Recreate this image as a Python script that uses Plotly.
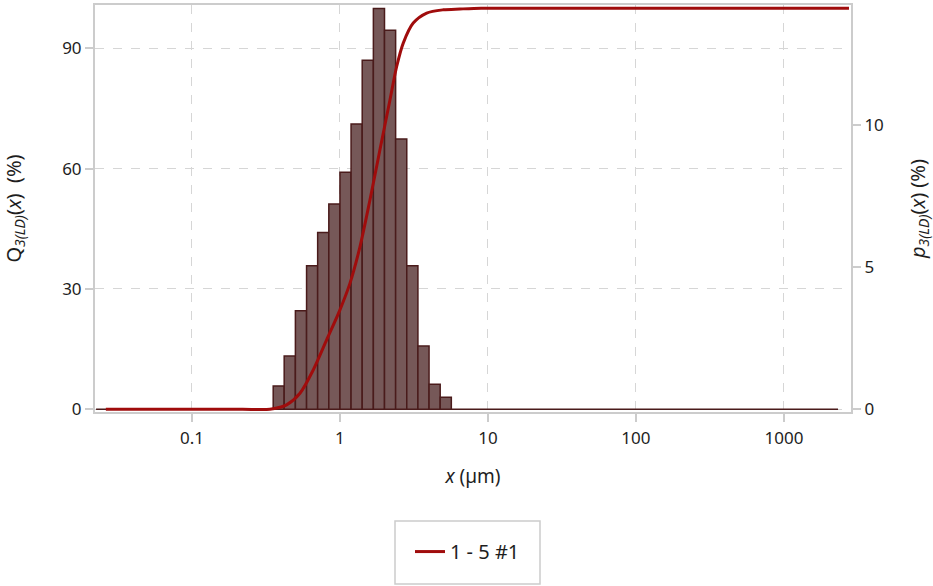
import plotly.graph_objects as go

# ---- data ----
bin_edges = [0.354, 0.420, 0.500, 0.595, 0.707, 0.841, 1.000, 1.189, 1.414,
             1.682, 2.000, 2.378, 2.828, 3.364, 4.000, 4.757, 5.657]
p3_values = [0.82, 1.87, 3.46, 5.04, 6.21, 7.21, 8.33, 10.02, 12.26,
             14.08, 13.31, 9.49, 5.04, 2.22, 0.88, 0.42]
baseline_x = [0.0225, 2320]  # measurement range (zero-density bins)
baseline_p = [0, 0]

curve_x = [0.0262, 0.06, 0.12, 0.22, 0.336, 0.393, 0.436, 0.537, 0.660, 0.813,
           1.0, 1.168, 1.365, 1.595, 1.863, 2.177, 2.415, 2.677, 3.127, 3.853,
           4.989, 6.47, 9.0, 20, 60, 200, 700, 2750]
curve_q = [0, 0, 0, 0, 0, 0.5, 1.1, 4.0, 9.8, 17.3,
           24.8, 31.4, 40.5, 52.2, 64.7, 77.1, 85.4, 91.3, 96.3, 98.8,
           99.6, 99.8, 100, 100, 100, 100, 100, 100]

series_name = "1 - 5 #1"
x_ticks = [0.1, 1, 10, 100, 1000]
x_tick_text = ["0.1", "1", "10", "100", "1000"]
q_ticks = [0, 30, 60, 90]
p_ticks = [0, 5, 10]

# ---- style ----
FONT = "Noto Sans"
BAR_FILL = "#765858"
BAR_LINE = "#4a1b1b"
CURVE = "#a00c0c"
FRAME = "#cccccc"
GRID = "#d6d6d6"
TXT = "#1e1e1e"
TICK_SIZE = 17
YTITLE_SIZE = 20
XTITLE_SIZE = 19
LEGEND_SIZE = 20

fig = go.Figure()

# baseline of the density histogram (right axis = primary y)
fig.add_trace(go.Scatter(x=baseline_x, y=baseline_p, yaxis="y", mode="lines",
                         line=dict(color=BAR_LINE, width=1.5),
                         showlegend=False, hoverinfo="skip"))

# histogram bars as closed polygons on the log axis
for i, h in enumerate(p3_values):
    l, r = bin_edges[i], bin_edges[i + 1]
    fig.add_trace(go.Scatter(x=[l, l, r, r, l], y=[0, h, h, 0, 0], yaxis="y",
                             mode="lines", fill="toself", fillcolor=BAR_FILL,
                             line=dict(color=BAR_LINE, width=1.5),
                             showlegend=False, hoverinfo="skip"))

# cumulative curve (left axis = overlaying y2, drawn on top)
fig.add_trace(go.Scatter(x=curve_x, y=curve_q, yaxis="y2", mode="lines",
                         line=dict(color=CURVE, width=3, shape="spline", smoothing=0.8),
                         name=series_name, showlegend=True))

fig.update_layout(
    width=933, height=586,
    margin=dict(l=95, r=82, t=5, b=174, autoexpand=False),
    paper_bgcolor="white", plot_bgcolor="white",
    font=dict(family=FONT, size=TICK_SIZE, color=TXT),
    showlegend=True,
    legend=dict(orientation="h", x=0.4927, xanchor="center", y=-0.295, yanchor="top",
                bgcolor="rgba(0,0,0,0)", borderwidth=0,
                font=dict(family=FONT, size=LEGEND_SIZE, color=TXT)),
    xaxis=dict(type="log", range=[-1.655, 3.453], automargin=False,
               tickvals=x_ticks, ticktext=x_tick_text, ticklabelstandoff=2,
               showgrid=True, gridcolor=GRID, griddash="dash", gridwidth=1,
               showline=True, linecolor=FRAME, linewidth=2, mirror=True,
               ticks="outside", ticklen=8, tickcolor=FRAME, tickwidth=1.5,
               zeroline=False, tickfont=dict(size=TICK_SIZE),
               title=dict(text="<i>x</i> (µm)", standoff=21,
                          font=dict(family=FONT, size=XTITLE_SIZE, color=TXT))),
    yaxis=dict(range=[-0.095, 14.2], tickvals=p_ticks, side="right", automargin=False,
               showgrid=False, showline=True, linecolor=FRAME, linewidth=2,
               ticks="outside", ticklen=8, tickcolor=FRAME, tickwidth=1.5,
               zeroline=False, tickfont=dict(size=TICK_SIZE),
               title=dict(text="<i>p<sub>3(LD)</sub></i>(<i>x</i>) (%)", standoff=28,
                          font=dict(family=FONT, size=YTITLE_SIZE, color=TXT))),
    yaxis2=dict(range=[-0.67, 100.8], tickvals=q_ticks, overlaying="y", side="left",
                automargin=False, ticklabelstandoff=0,
                showgrid=True, gridcolor=GRID, griddash="dash", gridwidth=1,
                showline=True, linecolor=FRAME, linewidth=2, mirror=True,
                ticks="outside", ticklen=8, tickcolor=FRAME, tickwidth=1.5,
                zeroline=False, tickfont=dict(size=TICK_SIZE),
                title=dict(text="Q<sub><i>3(LD)</i></sub>(<i>x</i>)  (%)", standoff=37,
                           font=dict(family=FONT, size=YTITLE_SIZE, color=TXT))),
    shapes=[dict(type="rect", xref="paper", yref="paper",
                 x0=(395 - 95) / 756, x1=(540 - 95) / 756,
                 y0=-(584 - 412) / 407, y1=-(521 - 412) / 407,
                 line=dict(color=FRAME, width=1.5), fillcolor="rgba(0,0,0,0)")],
)

fig.write_html("out.html", config={"displayModeBar": False},
               post_script="document.body.style.margin='0';")
